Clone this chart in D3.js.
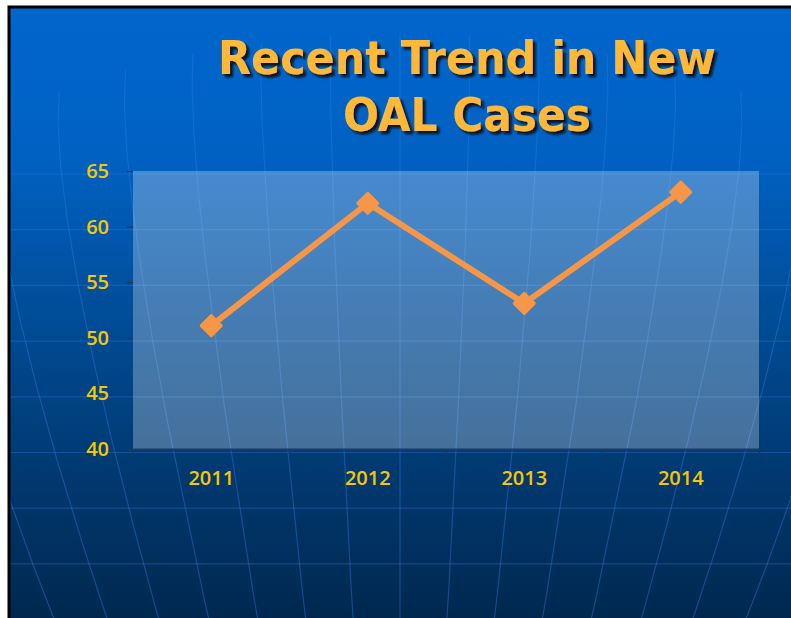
<!DOCTYPE html>
<html>
<head>
<meta charset="utf-8">
<script src="https://cdn.jsdelivr.net/npm/d3@7"></script>
<style>
  html, body { margin: 0; padding: 0; background: #fff; }
  svg { display: block; }
</style>
</head>
<body>
<div id="chart"></div>
<script>
const WIDTH = 791;
const HEIGHT = 618;

const years = ["2011", "2012", "2013", "2014"];
const cases = [51.1, 62.1, 53.1, 63.1];
const yTicks = [40, 45, 50, 55, 60, 65];
const titleLines = ["Recent Trend in New", "OAL Cases"];

const PLOT = { left: 133, right: 759, top: 171, bottom: 449 };

const svg = d3
  .select("#chart")
  .append("svg")
  .attr("width", WIDTH)
  .attr("height", HEIGHT);

const defs = svg.append("defs");

const bg = defs
  .append("linearGradient")
  .attr("id", "bg")
  .attr("x1", 0).attr("y1", 0)
  .attr("x2", 0).attr("y2", 1);
[
  [0, "#0066cc"],
  [0.25, "#0061c2"],
  [0.5, "#004d98"],
  [0.75, "#003a72"],
  [1, "#00284f"],
].forEach(s => bg.append("stop").attr("offset", s[0]).attr("stop-color", s[1]));

defs
  .append("clipPath")
  .attr("id", "slideClip")
  .append("rect")
  .attr("x", 9).attr("y", 7)
  .attr("width", WIDTH - 9).attr("height", HEIGHT - 7);

defs
  .append("filter")
  .attr("id", "shadow")
  .attr("x", "-5%").attr("y", "-20%")
  .attr("width", "115%").attr("height", "150%")
  .append("feDropShadow")
  .attr("dx", 3).attr("dy", 3)
  .attr("stdDeviation", 0.8)
  .attr("flood-color", "#0a0a0a")
  .attr("flood-opacity", 0.95);

// slide background
svg
  .append("rect")
  .attr("x", 9).attr("y", 7)
  .attr("width", WIDTH - 9).attr("height", HEIGHT - 7)
  .attr("fill", "url(#bg)");

// globe decoration
const deco = svg.append("g").attr("clip-path", "url(#slideClip)");

const projection = d3
  .geoOrthographic()
  .scale(1000)
  .rotate([0, 70])
  .translate([400, 1000]);
const geoPath = d3.geoPath(projection);

d3.range(-44, 45, 4).forEach(lon => {
  deco
    .append("path")
    .datum({ type: "LineString", coordinates: [[lon, -90], [lon, -45], [lon, 5]] })
    .attr("d", geoPath)
    .attr("fill", "none")
    .attr("stroke", "#2a80e0")
    .attr("stroke-opacity", 0.4)
    .attr("stroke-width", 1.2);
});

d3.range(174, HEIGHT, 55.7).forEach(y => {
  deco
    .append("line")
    .attr("x1", 9).attr("x2", WIDTH)
    .attr("y1", y).attr("y2", y)
    .attr("stroke", "#2a80e0")
    .attr("stroke-opacity", 0.35)
    .attr("stroke-width", 1.2);
});

// slide border
svg
  .append("path")
  .attr("d", `M9,${HEIGHT} V7 H${WIDTH}`)
  .attr("fill", "none")
  .attr("stroke", "#000")
  .attr("stroke-width", 3);

// title
const title = svg
  .append("g")
  .attr("filter", "url(#shadow)")
  .style("font-family", "'DejaVu Sans Condensed', 'Liberation Sans', sans-serif")
  .style("font-weight", "bold")
  .style("font-size", "47px");

const titleWidths = [498, 248];
const titleBase = [74, 131];
titleLines.forEach((t, i) => {
  title
    .append("text")
    .attr("x", 467)
    .attr("y", titleBase[i])
    .attr("text-anchor", "middle")
    .attr("textLength", titleWidths[i])
    .attr("lengthAdjust", "spacingAndGlyphs")
    .attr("fill", "#ffb838")
    .text(t);
});

// scales
const xScale = d3
  .scaleBand()
  .domain(years)
  .range([PLOT.left, PLOT.right]);

const yScale = d3
  .scaleLinear()
  .domain([40, 65])
  .range([PLOT.bottom, PLOT.top]);

// plot area
svg
  .append("rect")
  .attr("x", PLOT.left)
  .attr("y", PLOT.top)
  .attr("width", PLOT.right - PLOT.left)
  .attr("height", PLOT.bottom - PLOT.top)
  .attr("fill", "#ffffff")
  .attr("fill-opacity", 0.27);

const labelFont = "'Open Sans', sans-serif";

// y axis
const yAxis = d3.axisLeft(yScale).tickValues(yTicks).tickSize(6).tickPadding(18);
const yG = svg
  .append("g")
  .attr("transform", `translate(${PLOT.left}, 0)`)
  .call(yAxis);
yG.select(".domain").remove();
yG.selectAll(".tick line").attr("stroke", "#1a3a62").attr("stroke-width", 1.5);
yG.selectAll(".tick text")
  .attr("fill", "#f7c600")
  .style("font-family", labelFont)
  .style("font-weight", 600)
  .style("font-size", "20px");

// x axis
const xAxis = d3.axisBottom(xScale).tickSize(0).tickPadding(22);
const xG = svg
  .append("g")
  .attr("transform", `translate(0, ${PLOT.bottom})`)
  .call(xAxis);
xG.select(".domain")
  .attr("stroke", "#1a3a62")
  .attr("stroke-width", 2);
xG.selectAll(".tick text")
  .attr("fill", "#f7c600")
  .style("font-family", labelFont)
  .style("font-weight", 600)
  .style("font-size", "20px");

// category boundary ticks
const edges = years.map(d => xScale(d)).concat([xScale.range()[1]]);
xG.selectAll(".edge")
  .data(edges)
  .enter()
  .append("line")
  .attr("class", "edge")
  .attr("x1", d => d).attr("x2", d => d)
  .attr("y1", 0).attr("y2", 6)
  .attr("stroke", "#1a3a62")
  .attr("stroke-width", 1.5);

// series
const cx = d => xScale(d) + xScale.bandwidth() / 2;

const line = d3
  .line()
  .x((d, i) => cx(years[i]))
  .y(d => yScale(d));

svg
  .append("path")
  .datum(cases)
  .attr("d", line)
  .attr("fill", "none")
  .attr("stroke", "#f79646")
  .attr("stroke-width", 6)
  .attr("stroke-linejoin", "round");

const marker = d3.symbol().type(d3.symbolSquare).size(200);

svg
  .selectAll(".marker")
  .data(cases)
  .enter()
  .append("path")
  .attr("class", "marker")
  .attr("d", marker)
  .attr("transform", (d, i) => `translate(${cx(years[i])}, ${yScale(d)}) rotate(45)`)
  .attr("fill", "#f79646")
  .attr("stroke", "#f79646")
  .attr("stroke-width", 3)
  .attr("stroke-linejoin", "round");
</script>
</body>
</html>
